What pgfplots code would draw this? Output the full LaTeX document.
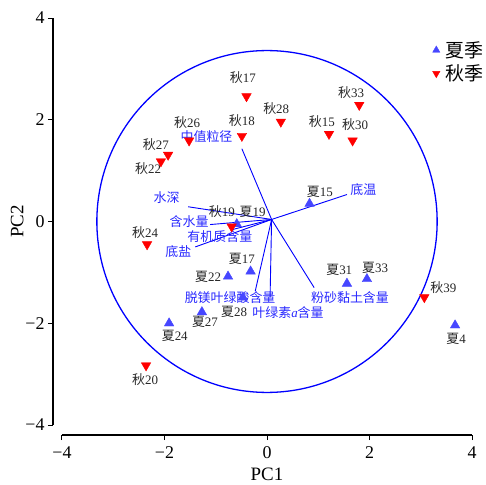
\documentclass[border=0pt]{standalone}
\usepackage{fontspec}
\setmainfont{Liberation Serif}
\newfontfamily\cjk{Noto Sans CJK SC}
\usepackage{pgfplots}
\pgfplotsset{compat=1.18}
\definecolor{sblue}{RGB}{70,70,255}
\definecolor{vblue}{RGB}{40,40,255}
\newcommand{\Q}{{\cjk 秋}}
\newcommand{\X}{{\cjk 夏}}
\begin{document}
\begin{tikzpicture}
\begin{axis}[
  scale only axis, width=410bp, height=407bp,
  xmin=-4, xmax=4, ymin=-4, ymax=4,
  axis lines*=left,
  axis x line shift=10bp,
  axis y line shift=9bp,
  axis line style={line width=1.1bp},
  tick style={line width=1bp, black},
  tick align=outside, major tick length=5bp,
  xtick={-4,-2,0,2,4}, xticklabels={−4,−2,0,2,4},
  ytick={-4,-2,0,2,4}, yticklabels={−4,−2,0,2,4},
  ticklabel style={font=\fontsize{18}{20}\selectfont},
  xticklabel style={yshift=-3bp},
  xlabel={PC1}, ylabel={PC2},
  xlabel style={yshift=-2.5bp},
  ylabel style={yshift=-5bp},
  label style={font=\fontsize{19}{21}\selectfont},
  clip=false,
  legend style={at={(axis cs:3.17,3.62)}, anchor=north west, draw=none, fill=none,
    font=\cjk\fontsize{19}{21}\selectfont, row sep=2bp},
  legend image post style={mark size=4.2bp},
  legend cell align=left,
]
\coordinate (SW) at (rel axis cs:0,0);
% circle
\draw[blue, line width=1.3bp] (axis cs:0,0) ellipse [x radius=3.32, y radius=3.36];
% vectors
\addplot[blue, line width=0.9bp, forget plot] coordinates {(0.09,0.04) (-0.49,1.43)};
\addplot[blue, line width=0.9bp, forget plot] coordinates {(0.09,0.04) (-1.54,0.29)};
\addplot[blue, line width=0.9bp, forget plot] coordinates {(0.09,0.04) (-1.11,-0.06)};
\addplot[blue, line width=0.9bp, forget plot] coordinates {(0.09,0.04) (-0.68,-0.16)};
\addplot[blue, line width=0.9bp, forget plot] coordinates {(0.09,0.04) (-1.40,-0.50)};
\addplot[blue, line width=0.9bp, forget plot] coordinates {(0.09,0.04) (-0.23,-1.37)};
\addplot[blue, line width=0.9bp, forget plot] coordinates {(0.09,0.04) (0.06,-1.49)};
\addplot[blue, line width=0.9bp, forget plot] coordinates {(0.09,0.04) (0.92,-1.30)};
\addplot[blue, line width=0.9bp, forget plot] coordinates {(0.09,0.04) (1.56,0.53)};
% summer
\addplot[only marks, mark=triangle*, mark size=5.5bp, color=sblue] coordinates {
(-0.59,-0.05) (0.83,0.35) (-0.32,-0.98) (-0.76,-1.08) (-1.27,-1.78)
(-0.47,-1.49) (-1.91,-2.00) (1.56,-1.22) (1.95,-1.13) (3.67,-2.04)};
\addlegendentry{\hspace{4bp}夏季}
% autumn
\addplot[only marks, mark=triangle*, mark size=5.5bp, color=red, mark options={rotate=180}] coordinates {
(-0.40,2.46) (0.27,1.96) (-0.49,1.68) (-1.52,1.59) (-1.93,1.31) (-2.07,1.18)
(1.80,2.29) (1.21,1.72) (1.67,1.59) (-0.69,-0.10) (-2.34,-0.45) (3.07,-1.49) (-2.36,-2.83)};
\addlegendentry{\hspace{4bp}秋季}
% point labels
\begin{scope}[every node/.style={font=\fontsize{13}{15}\selectfont, text=black!85, inner sep=0pt}]
\node at (axis cs:-0.47,2.83) {\Q17};
\node at (axis cs:0.18,2.22) {\Q28};
\node at (axis cs:-0.49,1.98) {\Q18};
\node at (axis cs:-1.56,1.94) {\Q26};
\node at (axis cs:-2.17,1.51) {\Q27};
\node at (axis cs:-2.32,1.04) {\Q22};
\node at (axis cs:1.64,2.53) {\Q33};
\node at (axis cs:1.07,1.96) {\Q15};
\node at (axis cs:1.72,1.91) {\Q30};
\node at (axis cs:-0.88,0.20) {\Q19};
\node at (axis cs:-2.38,-0.21) {\Q24};
\node at (axis cs:3.44,-1.30) {\Q39};
\node at (axis cs:-2.38,-3.11) {\Q20};
\node at (axis cs:-0.28,0.18) {\X19};
\node at (axis cs:1.03,0.59) {\X15};
\node at (axis cs:-0.49,-0.73) {\X17};
\node at (axis cs:-1.15,-1.09) {\X22};
\node at (axis cs:-1.21,-1.98) {\X27};
\node at (axis cs:-0.64,-1.77) {\X28};
\node at (axis cs:-1.80,-2.24) {\X24};
\node at (axis cs:1.41,-0.95) {\X31};
\node at (axis cs:2.11,-0.91) {\X33};
\node at (axis cs:3.69,-2.30) {\X4};
\end{scope}
% vector labels
\begin{scope}[every node/.style={font=\cjk\fontsize{13}{15}\selectfont, text=vblue, inner sep=0pt}]
\node at (axis cs:-1.18,1.67) {中值粒径};
\node at (axis cs:-1.96,0.47) {水深};
\node at (axis cs:-1.52,-0.01) {含水量};
\node at (axis cs:-0.92,-0.29) {有机质含量};
\node at (axis cs:-1.73,-0.60) {底盐};
\node at (axis cs:-0.72,-1.50) {脱镁叶绿酸含量};
\node at (axis cs:0.41,-1.79) {叶绿素{\rmfamily\itshape a}含量};
\node at (axis cs:1.62,-1.50) {粉砂黏土含量};
\node at (axis cs:1.88,0.62) {底温};
\end{scope}
\end{axis}
\pgfresetboundingbox
\path ([shift={(-62bp,-60bp)}]SW) rectangle ([shift={(424bp,425bp)}]SW);
\end{tikzpicture}
\end{document}
